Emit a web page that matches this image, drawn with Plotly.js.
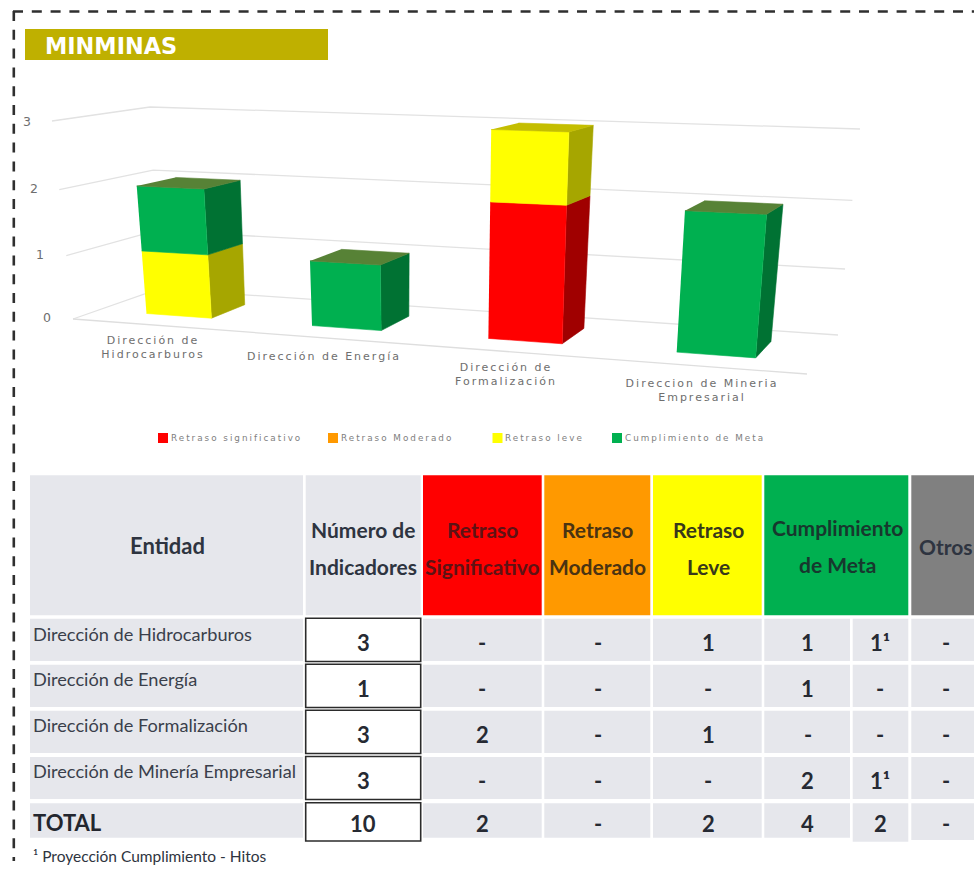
<!DOCTYPE html>
<html><head><meta charset="utf-8">
<script src="https://cdn.plot.ly/plotly-3.0.1.min.js"></script>
<style>
html,body{margin:0;padding:0;background:#fff}
#c{width:974px;height:869px}
.textpoint text{letter-spacing:2px}
</style></head><body><div id="c"></div>
<script>
// ---------- chart data ----------
const categories = ["Dirección de<br>Hidrocarburos","Dirección de Energía","Dirección de<br>Formalización","Direccion de Mineria<br>Empresarial"];
const seriesNames = ["Retraso significativo","Retraso Moderado","Retraso leve","Cumplimiento de Meta"];
const retrasoSignificativo = [0,0,2,0];
const retrasoModerado = [0,0,0,0];
const retrasoLeve = [1,0,1,0];
const cumplimientoMeta = [1,1,0,2];
const valueTicks = [0,1,2,3];
// ---------- table data ----------
const headerEntidad = "Entidad";
const headerCols = ["Número de<br>Indicadores","Retraso<br>Significativo","Retraso<br>Moderado","Retraso<br>Leve","Cumplimiento<br>de Meta","Otros"];
const rowNames = ["Dirección de Hidrocarburos","Dirección de Energía","Dirección de Formalización","Dirección de Minería Empresarial","TOTAL"];
const colNumero = ["3","1","3","3","10"];
const colSignificativo = ["-","-","2","-","2"];
const colModerado = ["-","-","-","-","-"];
const colLeve = ["1","-","1","-","2"];
const colMeta = ["1","1","-","2","4"];
const colProyeccion = ["1¹","-","-","1¹","2"];
const colOtros = ["-","-","-","-","-"];
const footnote = "¹ Proyección Cumplimiento - Hitos";
const titleText = "MINMINAS";

// ---------- colours ----------
const faceCol = ["#FF0000","#FF9900","#FFFF00","#00B050"];
const sideCol = ["#A00000","#A66300","#A6A600","#007233"];
const topCol  = ["#B00000","#B06A00","#C4BE00","#578236"];
const headFill = ["#E6E7EC","#E6E7EC","#FF0000","#FF9900","#FFFF00","#00B050","#808080"];
const headInk  = ["#2E3440","#2E3440","#5E1214","#4A3312","#38381A","#17382E","#2E3440"];
const cellBg = "#E6E7EC", ink = "#262A33";
const NARROW = "Lato,sans-serif";
const DEJA = "'DejaVu Sans',sans-serif";

// ---------- perspective box that maps (category, depth, value) to the plot ----------
const FL0=[73,319],BL0=[159,289],BR0=[838,335],FR0=[807,374];
const FL3=[52,121],BL3=[150,107],BR3=[860,129],FR3=[826,145];
const lerp=(a,b,t)=>a+(b-a)*t, lerp2=(A,B,t)=>[lerp(A[0],B[0],t),lerp(A[1],B[1],t)];
const warp=(t,k)=>k*t/(1-t+k*t);
function proj(cat,depth,val){
  const u=warp(cat,0.878), s=warp(val/3,0.943);
  const low=lerp2(lerp2(FL0,FR0,u),lerp2(BL0,BR0,u),depth);
  const high=lerp2(lerp2(FL3,FR3,u),lerp2(BL3,BR3,u),depth);
  return lerp2(low,high,s);
}
const traces=[], annos=[], shapes=[];
function poly(pts,fill,name,edge,w){
  traces.push({type:'scatter',mode:'lines',x:pts.map(p=>p[0]),y:pts.map(p=>p[1]),
    fill:fill?'toself':'none',fillcolor:fill||undefined,name:name||'',
    line:{color:edge||fill,width:w===undefined?0.6:w},hoverinfo:name?'name':'skip',showlegend:false});
}
// dashed frame
function dashed(a,b){traces.push({type:'scatter',mode:'lines',x:[a[0],b[0]],y:[a[1],b[1]],hoverinfo:'skip',showlegend:false,
  line:{color:'#2F2F2F',width:2.6,dash:'10px,8.8px'}});}
dashed([13,11.5],[974,11.5]);
dashed([13.8,11],[13.8,861]);

// gridlines
valueTicks.forEach(v=>{
  poly([proj(0,0,v),proj(0,1,v),proj(1,1,v)],null,'','#E2E2E2',1.3);
});
poly([proj(0,0,0),proj(1,0,0)],null,'','#DEDEDE',1.3);

// bars
const allSeries=[retrasoSignificativo,retrasoModerado,retrasoLeve,cumplimientoMeta];
const HALF=0.05, D0=0.30, D1=0.73;
categories.forEach((cat,i)=>{
  const c=(i+0.5)/categories.length, a=c-HALF, b=c+HALF;
  let base=0, lastIdx=-1;
  allSeries.forEach((vals,si)=>{
    const h=vals[i]; if(!h) return;
    const t=base+h;
    poly([proj(b,D0,base),proj(b,D1,base),proj(b,D1,t),proj(b,D0,t)],sideCol[si],seriesNames[si]);
    poly([proj(a,D0,base),proj(b,D0,base),proj(b,D0,t),proj(a,D0,t)],faceCol[si],seriesNames[si]);
    base=t; lastIdx=si;
  });
  poly([proj(a,D0,base),proj(b,D0,base),proj(b,D1,base),proj(a,D1,base)],topCol[lastIdx],seriesNames[lastIdx]);
});

// chart text
const axisInk='#6E6E6E';
const tickPos=[[48,319],[41,255.5],[35,190],[28,122.5]];
traces.push({type:'scatter',mode:'text',x:tickPos.map(p=>p[0]),y:tickPos.map(p=>p[1]),text:valueTicks.map(String),
  textposition:'middle center',textfont:{family:DEJA,size:12.5,color:axisInk},hoverinfo:'skip',showlegend:false});
const catPos=[[153,348.5],[324,357],[506,375.5],[702,391.5]];
traces.push({type:'scatter',mode:'text',x:catPos.map(p=>p[0]),y:catPos.map(p=>p[1]),text:categories,
  textposition:'middle center',textfont:{family:DEJA,size:11,color:axisInk},hoverinfo:'skip',showlegend:false});
// legend
const legX=[163,333,497.5,617], legTextX=[171,341,505,625];
seriesNames.forEach((n,i)=>{
  traces.push({type:'scatter',mode:'markers',x:[legX[i]],y:[438],name:n,showlegend:false,hoverinfo:'name',
    marker:{symbol:'square',size:10,color:faceCol[i],line:{width:0}}});
  traces.push({type:'scatter',mode:'text',x:[legTextX[i]],y:[438.5],text:[n],textposition:'middle right',hoverinfo:'skip',showlegend:false,
    textfont:{family:DEJA,size:8.8,color:'#808080'}});
});

// ---------- title band ----------
shapes.push({type:'rect',xref:'x',yref:'y',x0:25,x1:328,y0:29,y1:60,fillcolor:'#BFB000',line:{width:0},layer:'below'});
const note=(x,y,text,size,color,bold,anchor,fam)=>annos.push({x,y,xref:'x',yref:'y',text:bold?'<b>'+text+'</b>':text,showarrow:false,
  xanchor:anchor||'center',yanchor:'middle',font:{family:fam||NARROW,size,color},borderpad:0,align:anchor==='left'?'left':'center'});
note(43.5,45.5,titleText,22.4,'#FFFFFF',true,'left',DEJA);

// ---------- table ----------
const colEdge=[[30,303],[305.7,420.7],[423,541.7],[544.3,650.3],[653,761.7],[764.3,850],[852.7,908.3],[911.3,974]];
const rowEdge=[[618.7,661],[664.7,707],[710.7,753],[757,799],[803.3,837.7]];
const rowBottomExtra={6:841.7,7:840};
const rowTextY=[642,688,734,780,823], rowLabelY=[634,679,725,771,822.5];
const colX=[363,482,597.5,708,807.5,880,945.5];
const rect=(x0,x1,y0,y1,fill,line)=>shapes.push({type:'rect',xref:'x',yref:'y',x0,x1,y0,y1,fillcolor:fill,
  line:line?{color:line,width:1.6}:{width:0},layer:'below'});
// header cells
const headSpans=[colEdge[0],colEdge[1],colEdge[2],colEdge[3],colEdge[4],[colEdge[5][0],colEdge[6][1]],colEdge[7]];
headSpans.forEach((s,i)=>rect(s[0],s[1],475.3,615.3,headFill[i]));
note(167,545,headerEntidad,22,headInk[0],true);
const headX=[363,482,597.5,708,837,946], headY=[[529,566],[529,566],[529,566],[529,566],[527,564],[546]];
headerCols.forEach((h,i)=>h.split('<br>').forEach((ln,j)=>note(headX[i],headY[i][j],ln,21,headInk[i+1],true)));
// body cells
const bodyCols=[colNumero,colSignificativo,colModerado,colLeve,colMeta,colProyeccion,colOtros];
rowNames.forEach((name,r)=>{
  const [y0,y1]=rowEdge[r];
  rect(colEdge[0][0],colEdge[0][1],y0,y1,cellBg);
  note(32,rowLabelY[r],name,r===4?22:18.2,r===4?'#23262E':'#3A3F4B',r===4,'left');
  bodyCols.forEach((col,c)=>{
    const e=colEdge[c+1];
    if(c===0) rect(e[0],e[1],y0-0.5,r===4?841:y1+0.5,'#FFFFFF','#2B2B2B');
    else rect(e[0],e[1],y0,(r===4&&rowBottomExtra[c+1])||y1,cellBg);
    note(colX[c],rowTextY[r],col[r],22,ink,true);
  });
});
note(32,856,footnote,15.5,'#2E3440',false,'left');

Plotly.newPlot('c',traces,{
  width:974,height:869,margin:{l:0,r:0,t:0,b:0,pad:0},paper_bgcolor:'#fff',plot_bgcolor:'#fff',showlegend:false,
  xaxis:{range:[0,974],visible:false,fixedrange:true},
  yaxis:{range:[869,0],visible:false,fixedrange:true},
  shapes:shapes,annotations:annos
},{displayModeBar:false,staticPlot:true});
</script></body></html>
